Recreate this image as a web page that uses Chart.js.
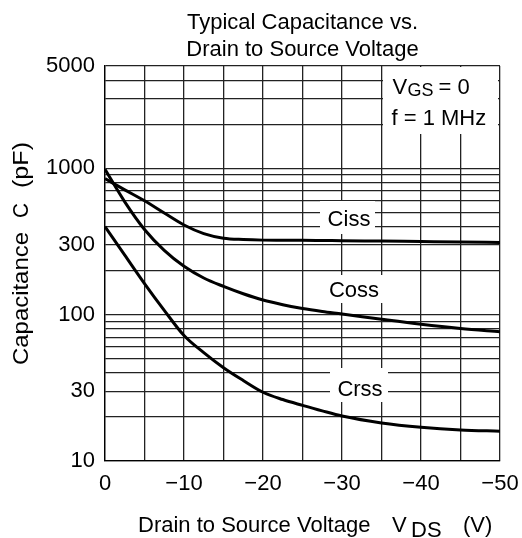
<!DOCTYPE html>
<html>
<head>
<meta charset="utf-8">
<script src="https://cdn.jsdelivr.net/npm/chart.js@4.4.1/dist/chart.umd.min.js"></script>
<style>
  html, body { margin: 0; padding: 0; background: #fff; }
  #wrap { width: 522px; height: 538px; position: relative; }
</style>
</head>
<body>
<div id="wrap"><canvas id="c" width="522" height="538"></canvas></div>
<script>
// ---- Data ----
const vds  = [0, -2.5, -5, -7.5, -10, -12.5, -15, -17.5, -20, -22.5, -25, -27.5, -30, -35, -40, -45, -50];
const ciss = [850, 712, 600, 495, 410, 358, 333, 326, 323, 322.5, 322, 321, 320, 318, 316, 314, 311];
const coss = [984, 590, 382, 275, 214, 178, 156, 139, 126, 117, 110, 105, 101, 93, 86, 80.5, 76.5];
const crss = [400, 255, 163, 107, 72, 55, 43.4, 35.5, 29.5, 26.3, 24.0, 22.0, 20.3, 18.2, 17.0, 16.3, 16.0];

const xGridValues  = [0, -5, -10, -15, -20, -25, -30, -35, -40, -45, -50];
const xLabelValues = [0, -10, -20, -30, -40, -50];
const yGridValues  = [10, 20, 30, 40, 50, 60, 70, 80, 90,
                      100, 200, 300, 400, 500, 600, 700, 800, 900,
                      1000, 2000, 3000, 4000, 5000];
const yLabelValues = [10, 30, 100, 300, 1000, 5000];

const titleLines = ['Typical Capacitance vs.', 'Drain to Source Voltage'];

const FONT = '"Liberation Sans", Arial, Helvetica, sans-serif';

function toPoints(ys) { return vds.map((x, i) => ({ x: x, y: ys[i] })); }

function drawStretched(ctx, text, x, y, size, targetWidth) {
  ctx.save();
  ctx.font = size + 'px ' + FONT;
  const w = ctx.measureText(text).width;
  const sx = targetWidth ? targetWidth / w : 1;
  ctx.translate(x, y);
  ctx.scale(sx, 1);
  ctx.fillText(text, 0, 0);
  ctx.restore();
}

const annotations = {
  id: 'annotations',
  afterDatasetsDraw(chart) {
    const ctx = chart.ctx;
    const ca = chart.chartArea;
    const L = ca.left, T = ca.top;
    ctx.save();
    ctx.fillStyle = '#fff';
    // white label boxes (relative to chart area)
    ctx.fillRect(L + 215, T + 135, 55, 33);   // Ciss
    ctx.fillRect(L + 220, T + 209, 58, 28);   // Coss
    ctx.fillRect(L + 225, T + 302, 58, 34);   // Crss
    ctx.fillRect(L + 278, T + 1, 115, 67);    // VGS / f box
    ctx.fillStyle = '#000';
    ctx.textBaseline = 'alphabetic';
    ctx.font = '22px ' + FONT;
    ctx.textAlign = 'center';
    ctx.fillText('Ciss', L + 244, T + 159.5);
    ctx.fillText('Coss', L + 249, T + 230.5);
    ctx.fillText('Crss', L + 255, T + 329.5);
    ctx.textAlign = 'left';
    // VGS = 0
    ctx.font = '22px ' + FONT;
    ctx.fillText('V', L + 287.5, T + 28);
    ctx.font = '18px ' + FONT;
    ctx.fillText('GS', L + 302.5, T + 30);
    ctx.font = '22px ' + FONT;
    ctx.fillText(' = 0', L + 327.5, T + 28);
    ctx.fillText('f = 1 MHz', L + 286.5, T + 59);

    // x-axis title
    ctx.font = '22px ' + FONT;
    ctx.fillText('Drain to Source Voltage', 138, 532);
    ctx.fillText('V', 392, 532);
    ctx.fillText('DS', 411, 537);
    ctx.fillText('(V)', 463, 532);

    // y-axis title (rotated)
    ctx.save();
    ctx.translate(28, 0);
    ctx.rotate(-Math.PI / 2);
    drawStretched(ctx, 'Capacitance', -365, 0, 22, 133);
    drawStretched(ctx, 'C', -218, 0, 22, 15);
    drawStretched(ctx, '(pF)', -188, 0, 22, 46);
    ctx.restore();
    ctx.restore();
  }
};

const lineStyle = {
  borderColor: '#000',
  borderWidth: 3,
  pointRadius: 0,
  fill: false,
  showLine: true,
  cubicInterpolationMode: 'monotone'
};

const gridStyle = { color: '#222', lineWidth: 1.3, drawTicks: false };

new Chart(document.getElementById('c'), {
  type: 'scatter',
  data: {
    datasets: [
      Object.assign({ label: 'Ciss', data: toPoints(ciss) }, lineStyle),
      Object.assign({ label: 'Coss', data: toPoints(coss) }, lineStyle),
      Object.assign({ label: 'Crss', data: toPoints(crss) }, lineStyle)
    ]
  },
  options: {
    responsive: false,
    animation: false,
    devicePixelRatio: 1,
    layout: { padding: { left: 0, right: 22, top: 0, bottom: 0 } },
    plugins: {
      legend: { display: false },
      tooltip: { enabled: false },
      title: {
        display: true,
        text: titleLines,
        color: '#000',
        fullSize: false,
        font: { size: 22, family: FONT, weight: 'normal', lineHeight: '27px' },
        padding: { top: 9, bottom: 3 }
      }
    },
    scales: {
      x: {
        type: 'linear',
        min: -50,
        max: 0,
        reverse: true,
        afterBuildTicks: s => { s.ticks = xGridValues.map(v => ({ value: v })); },
        afterFit: s => { s.height = 77; s.paddingLeft = 0; s.paddingRight = 0; },
        ticks: {
          autoSkip: false,
          maxRotation: 0,
          padding: 10,
          color: '#000',
          font: { size: 22, family: FONT },
          callback: v => xLabelValues.includes(v) ? (v === 0 ? '0' : '\u2212' + Math.abs(v)) : ''
        },
        grid: gridStyle,
        border: { color: '#000', width: 1.3 }
      },
      y: {
        type: 'logarithmic',
        min: 10,
        max: 5000,
        afterBuildTicks: s => { s.ticks = yGridValues.map(v => ({ value: v })); },
        afterFit: s => { s.width = 105; s.paddingTop = 0; s.paddingBottom = 0; },
        ticks: {
          autoSkip: false,
          padding: 10,
          color: '#000',
          font: { size: 22, family: FONT },
          callback: v => yLabelValues.includes(v) ? String(v) : ''
        },
        grid: gridStyle,
        border: { color: '#000', width: 1.3 }
      }
    }
  },
  plugins: [annotations]
});
</script>
</body>
</html>
